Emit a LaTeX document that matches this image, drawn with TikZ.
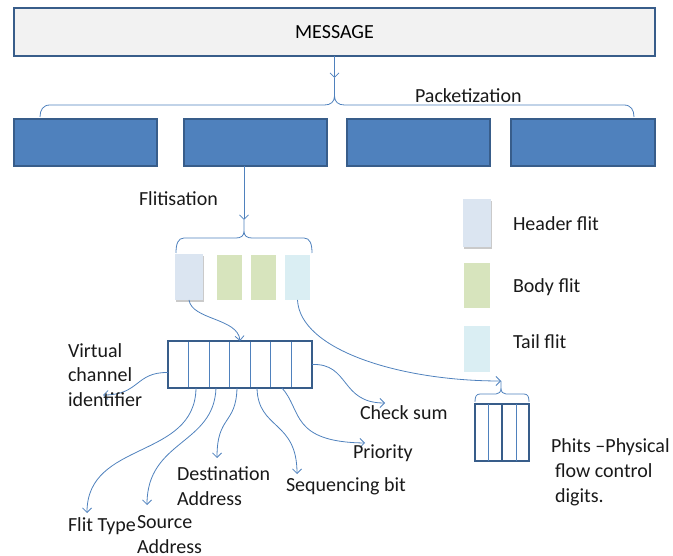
\documentclass[tikz,border=0pt]{standalone}
\usepackage{fontspec}
\setmainfont{Carlito}
\usetikzlibrary{arrows.meta,calc,shadows}
\definecolor{edgeblue}{HTML}{385D8A}
\definecolor{fillblue}{HTML}{4F81BD}
\definecolor{lineblue}{HTML}{4F81BD}
\definecolor{msgfill}{HTML}{F2F2F2}
\definecolor{headfill}{HTML}{DBE5F1}
\definecolor{bodyfill}{HTML}{D7E4BD}
\definecolor{tailfill}{HTML}{DAEEF3}

\begin{document}
\begin{tikzpicture}[x=1pt,y=-1pt,
  every node/.style={inner sep=0pt, outer sep=0pt},
  lbl/.style={font=\fontsize{20}{25}\selectfont, text=black!90, anchor=base west, align=left},
  msgbox/.style={draw=edgeblue, line width=1.6pt, fill=msgfill, minimum width=641pt,
    minimum height=48pt, font=\fontsize{20}{25}\selectfont},
  pktbox/.style={draw=edgeblue, line width=1.6pt, fill=fillblue, minimum width=143pt, minimum height=47pt},
  flitbox/.style={minimum width=25pt, minimum height=45pt},
  hshadow/.style={drop shadow={shadow xshift=0.6pt, shadow yshift=-1.6pt, opacity=0.35, fill=black!60}},
  fieldbox/.style={draw=edgeblue, line width=1.6pt, fill=white},
  divider/.style={draw=lineblue, line width=0.8pt},
  conn/.style={draw=lineblue, line width=0.8pt},
  arr/.style={conn, -{Straight Barb[length=4.5pt,width=9pt]}},
  cbrace/.style={draw=lineblue, line width=0.8pt},
]
\useasboundingbox (0,0) rectangle (673,556);

% message and packets
\node[msgbox] (msg) at (334.5,32) {MESSAGE};
\node[pktbox] (p1) at (85.5,142.5) {};
\node[pktbox] (p2) at (255.5,142.5) {};
\node[pktbox] (p3) at (418.5,142.5) {};
\node[pktbox, minimum width=144pt] (p4) at (583,142.5) {};

% packetization brace
\coordinate (t1) at (334.5,78);
\draw[arr] (msg.south) -- (t1);
\draw[cbrace] (40,117) .. controls (40,110) and (43,105) .. (50,105) -- (324.5,105)
  .. controls (330.5,105) and (334.5,102) .. (334.5,96) -- (t1)
  (334.5,96) .. controls (334.5,102) and (338.5,105) .. (344.5,105) -- (624,105)
  .. controls (631,105) and (634,110) .. (634,117);
\node[lbl] (packetization) at (415,103) {Packetization};

% flits
\node[flitbox, fill=headfill, minimum width=28pt, minimum height=46pt, hshadow] (hf) at (189,277) {};
\node[flitbox, fill=bodyfill] (bf1) at (229.5,277.5) {};
\node[flitbox, fill=bodyfill] (bf2) at (263.5,277.5) {};
\node[flitbox, fill=tailfill] (tf) at (297.5,277.5) {};

% flitisation brace
\coordinate (t2) at (244,220);
\draw[arr] (p2.south -| t2) -- (t2);
\draw[cbrace] (176,253) .. controls (176,244) and (178,238) .. (184,238) -- (236,238)
  .. controls (241,238) and (244,236) .. (244,231) -- (t2)
  (244,231) .. controls (244,236) and (247,238) .. (252,238) -- (304,238)
  .. controls (310,238) and (312,244) .. (312,253);
\node[lbl] (flitisation) at (139,206) {Flitisation};

% legend
\node[flitbox, fill=headfill, minimum width=28pt, minimum height=48pt, hshadow] (lh) at (477,223) {};
\node[flitbox, fill=bodyfill, minimum width=26pt] (lb) at (477,285.5) {};
\node[flitbox, fill=tailfill, minimum width=26pt, minimum height=46pt] (lt) at (477,349) {};
\node[lbl] (lhtext) at (513,231) {Header flit};
\node[lbl] (lbtext) at (513,293) {Body flit};
\node[lbl] (lttext) at (513,349) {Tail flit};

% header flit fields
\node[fieldbox, minimum width=144pt, minimum height=47pt] (pk) at (240,364.5) {};
\foreach \k in {1,...,6}
  \draw[divider] ($(pk.north west)+(\k*144/7,0)$) -- ($(pk.south west)+(\k*144/7,0)$);
\draw[fieldbox, fill=none] (pk.north west) rectangle (pk.south east);

% phits
\node[fieldbox, minimum width=54pt, minimum height=57pt] (ph) at (502,432.5) {};
\draw[divider] ($(ph.north west)+(13,0)$) -- ($(ph.south west)+(13,0)$);
\draw[divider] ($(ph.north west)+(41,0)$) -- ($(ph.south west)+(41,0)$);
\draw[draw=edgeblue, line width=1.6pt] (ph.north) -- (ph.south);

\coordinate (t3) at (501,381);
\draw[cbrace] (475,402) .. controls (475,397) and (476,394) .. (480,394) -- (496,394)
  .. controls (499,394) and (501,392) .. (501,388) -- (t3)
  (501,388) .. controls (501,392) and (503,394) .. (506,394) -- (524,394)
  .. controls (528,394) and (529,397) .. (529,402);

% flits to fields and phits
\draw[arr] (hf.south) .. controls (192,320) and (238,318) .. (pk.north);
\draw[arr] (tf.south) .. controls (300,350) and (400,381) .. (t3);

% field labels
\coordinate (evc) at (103,395);
\coordinate (eft) at (87,513);
\coordinate (esrc) at (147,505);
\coordinate (edst) at (217,458);
\coordinate (eseq) at (297,474);
\coordinate (epri) at (365,443);
\coordinate (echk) at (385,403);

\draw[arr] ($(pk.west)+(0,8)$) .. controls (135,372) and (140,395) .. (evc);
\draw[arr] ($(pk.south west)+(28,0)$) .. controls (195,460) and (87,440) .. (eft);
\draw[arr] ($(pk.south west)+(48,0)$) .. controls (214,445) and (147,440) .. (esrc);
\draw[arr] ($(pk.south west)+(69,0)$) .. controls (236,425) and (217,415) .. (edst);
\draw[arr] ($(pk.south west)+(89,0)$) .. controls (258,430) and (297,420) .. (eseq);
\draw[arr] ($(pk.south west)+(114,0)$) .. controls (302,410) and (290,442) .. (epri);
\draw[arr] (pk.east) .. controls (350,363) and (340,403) .. (echk);

% multi-line labels sit on the baseline of their last line
\node[lbl] (vc) at (68,407) {Virtual\\channel\\identifier};
\node[lbl] (ft) at (68,531) {Flit Type};
\node[lbl] (src) at (137,553) {Source\\Address};
\node[lbl] (dst) at (177,505) {Destination\\Address};
\node[lbl] (seq) at (286,492) {Sequencing bit};
\node[lbl] (pri) at (353,459) {Priority};
\node[lbl] (chk) at (360,420) {Check sum};
\node[lbl] (phits) at (551,502) {Phits –Physical\\\hspace*{4pt}flow control\\\hspace*{4pt}digits.};
\end{tikzpicture}
\end{document}
